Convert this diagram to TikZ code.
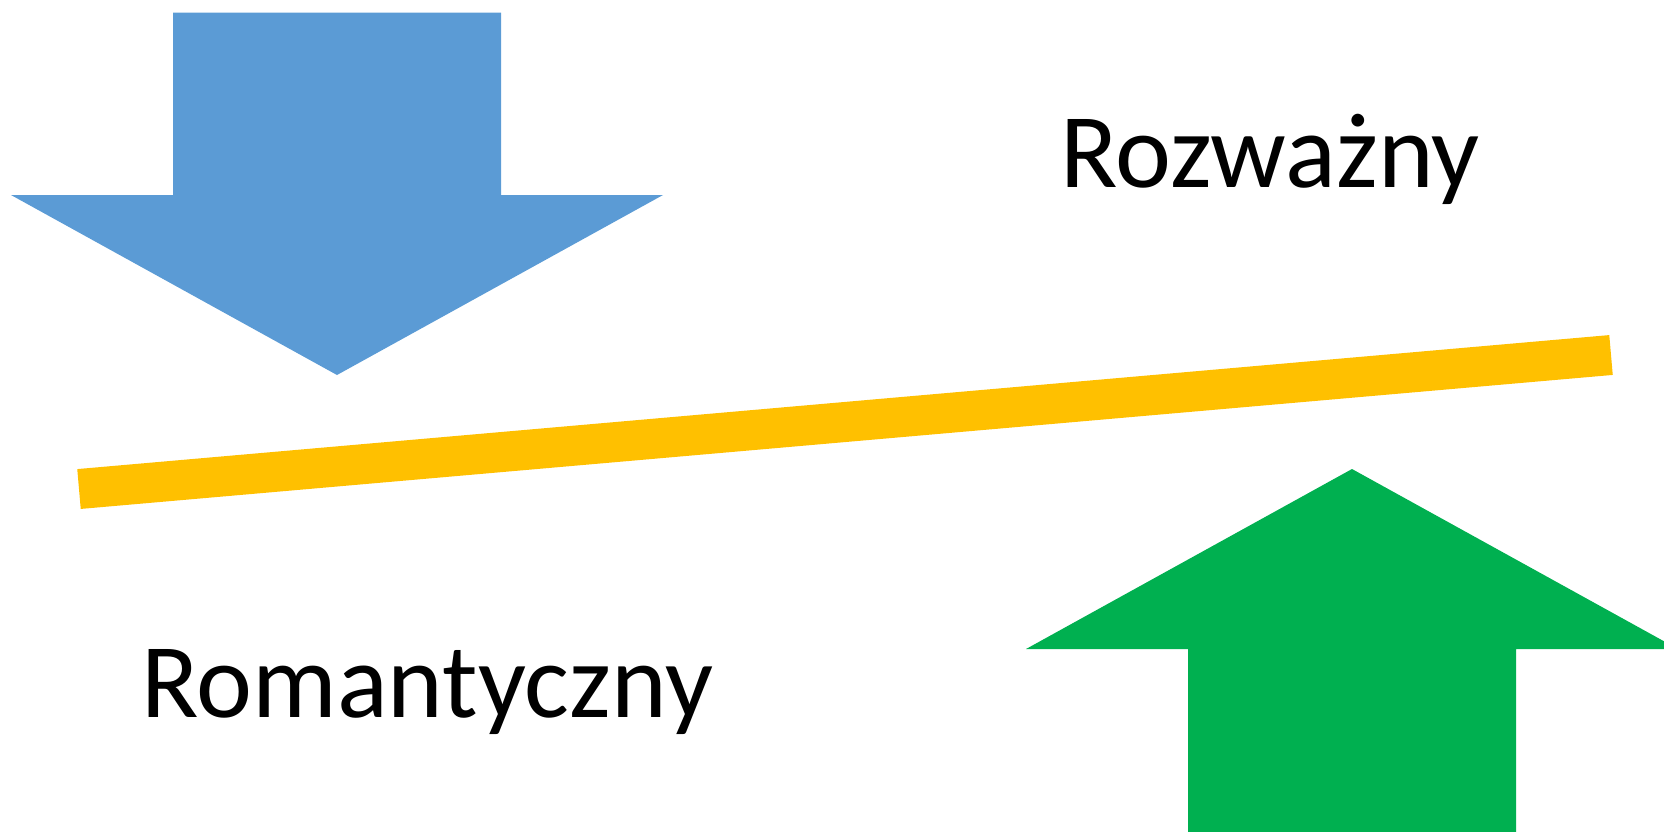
\documentclass[tikz,border=0pt]{standalone}
\usepackage{fontspec}
\setmainfont{Carlito}
\definecolor{arrowblue}{HTML}{5B9BD5}
\definecolor{baryellow}{HTML}{FFC000}
\definecolor{arrowgreen}{HTML}{00B050}
\begin{document}
\begin{tikzpicture}[x=1pt,y=-1pt,
  label text/.style={inner sep=0pt,anchor=base west,font=\fontsize{106}{112}\selectfont}]
\useasboundingbox (0,0) rectangle (1664,831);
\clip (0,0) rectangle (1664,831);
% blue down arrow
\fill[arrowblue] (173,12.7) -- (501,12.7) -- (501,195) -- (663,195) -- (337,375)
  -- (11,195) -- (173,195) -- cycle;
% green up arrow
\fill[arrowgreen] (1188,840) -- (1188,649) -- (1026,649) -- (1352,469) -- (1678,649)
  -- (1516,649) -- (1516,840) -- cycle;
% yellow bar
\draw[baryellow,line width=40pt] (79,489) -- (1611,355);
% labels
\node[label text] (rozwazny) at (1060,187) {Rozważny};
\node[label text] (romantyczny) at (141,717) {Romantyczny};
\end{tikzpicture}
\end{document}
